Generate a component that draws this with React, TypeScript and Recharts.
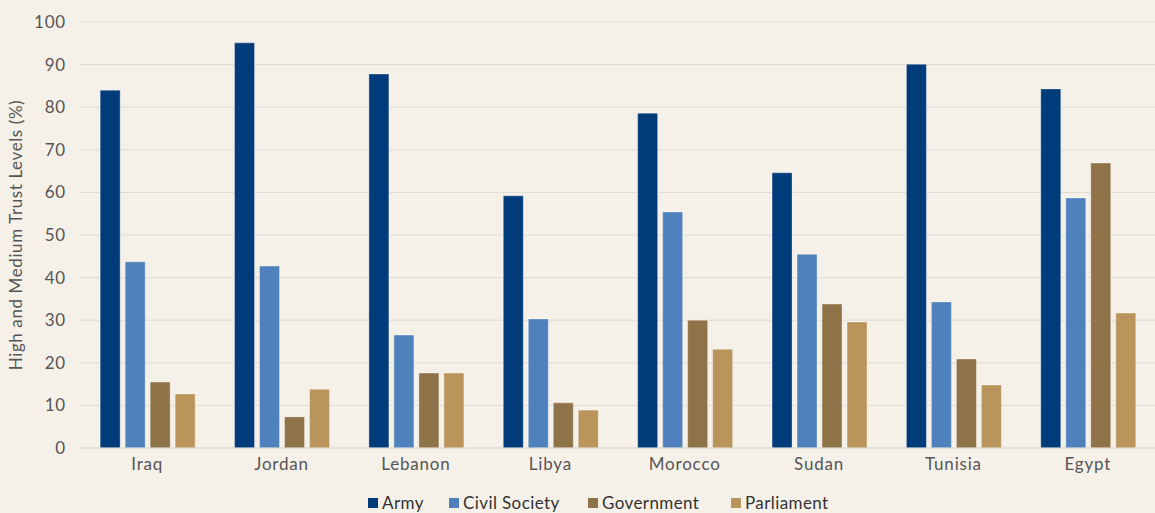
import React from 'react';
import {
  BarChart,
  Bar,
  XAxis,
  YAxis,
  CartesianGrid,
  Legend,
  Label,
} from 'recharts';

// --- Data ---

const countries = ['Iraq', 'Jordan', 'Lebanon', 'Libya', 'Morocco', 'Sudan', 'Tunisia', 'Egypt'];
const army = [84.0, 95.1, 87.8, 59.2, 78.6, 64.6, 90.1, 84.3];
const civilSociety = [43.7, 42.7, 26.5, 30.3, 55.4, 45.5, 34.3, 58.7];
const government = [15.5, 7.3, 17.6, 10.6, 30.0, 33.8, 20.9, 66.9];
const parliament = [12.7, 13.8, 17.6, 8.9, 23.2, 29.6, 14.8, 31.7];
const yTicks = [0, 10, 20, 30, 40, 50, 60, 70, 80, 90, 100];

const series = [
  { key: 'Army', color: '#003b7a' },
  { key: 'Civil Society', color: '#4f81bd' },
  { key: 'Government', color: '#8f7348' },
  { key: 'Parliament', color: '#b9945b' },
];

const data = countries.map((c, i) => ({
  country: c,
  Army: army[i],
  'Civil Society': civilSociety[i],
  Government: government[i],
  Parliament: parliament[i],
}));

const FONT = 'Lato, "Open Sans", sans-serif';
const TEXT = '#555555';

// legend item widths so the spacing follows the reference
const legendWidths = [81, 139, 143, 110];

const renderLegend = () => (
  <div style={{ display: 'flex', justifyContent: 'center', fontFamily: FONT, fontSize: 17, letterSpacing: 0.4, lineHeight: '20px', color: '#333', paddingLeft: 54 }}>
    {series.map((s, i) => (
      <div key={s.key} style={{ display: 'flex', alignItems: 'center', width: legendWidths[i] }}>
        <span style={{ display: 'inline-block', width: 10, height: 10, background: s.color, marginRight: 4 }} />
        <span>{s.key}</span>
      </div>
    ))}
  </div>
);

const App: React.FC = () => {
  return (
    <div style={{ position: 'absolute', left: 0, top: 0, width: 1155, height: 513, background: '#f5f1e9', overflow: 'hidden' }}>
      <style>{'body{margin:0;background:#f5f1e9;}'}</style>
      <BarChart
        width={1155}
        height={513}
        data={data}
        margin={{ top: 22, right: 0, left: 0, bottom: 0 }}
        barCategoryGap="15%"
        barGap={5}
      >
        <CartesianGrid vertical={false} stroke="#dedbd6" strokeWidth={1} />
        <XAxis
          dataKey="country"
          axisLine={{ stroke: '#dedbd6' }}
          tickLine={false}
          height={45}
          tick={{ fill: TEXT, fontSize: 17, fontFamily: FONT, letterSpacing: 0.8 }}
          tickMargin={4}
        />
        <YAxis
          domain={[0, 100]}
          ticks={yTicks}
          axisLine={false}
          tickLine={false}
          width={80}
          tickMargin={8}
          tick={{ fill: TEXT, fontSize: 17, fontFamily: FONT, letterSpacing: 0.8 }}
        >
          <Label
            value="High and Medium Trust Levels (%)"
            angle={-90}
            position="insideLeft"
            offset={16}
            style={{ textAnchor: 'middle', fill: TEXT, fontSize: 17, fontFamily: FONT, letterSpacing: 0.6 }}
          />
        </YAxis>
        <Legend
          verticalAlign="bottom"
          content={renderLegend}
          wrapperStyle={{ bottom: 0 }}
        />
        {series.map(s => (
          <Bar
            key={s.key}
            dataKey={s.key}
            fill={s.color}
            stroke="#ffffff"
            strokeOpacity={0.35}
            strokeWidth={1}
            isAnimationActive={false}
          />
        ))}
      </BarChart>
    </div>
  );
};

export default App;
